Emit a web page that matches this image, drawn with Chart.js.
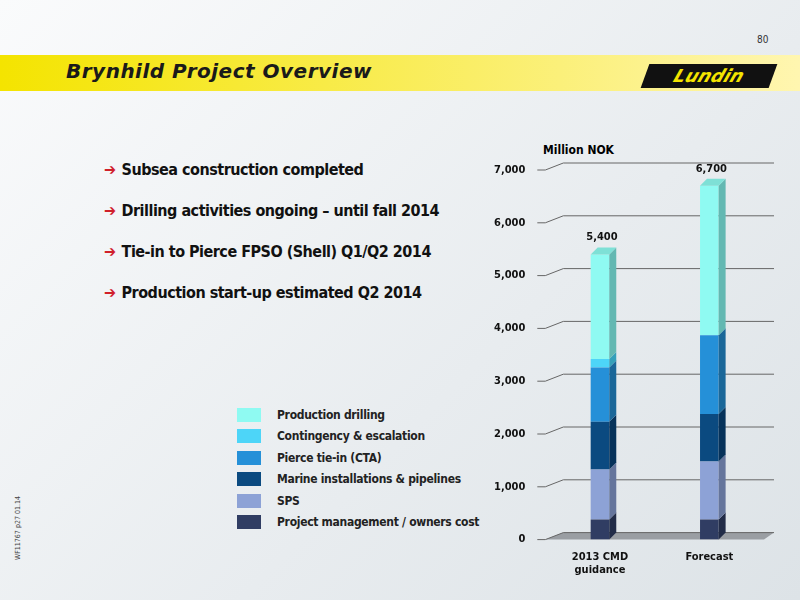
<!DOCTYPE html>
<html>
<head>
<meta charset="utf-8">
<script src="https://cdn.jsdelivr.net/npm/chart.js@4"></script>
<style>
  body { margin: 0; width: 800px; height: 600px; position: relative; overflow: hidden;
         font-family: "DejaVu Sans Condensed", sans-serif;
         background: linear-gradient(135deg, #fafbfc 0%, #e8ecef 60%, #dde3e7 100%); }
  .band { position: absolute; left: 0; top: 55px; width: 800px; height: 36px; background: linear-gradient(90deg,#f4e400 0%, #fbf07a 70%, #fff6b0 100%); }
  .title { position: absolute; left: 66px; top: 59px; font: italic bold 20px "DejaVu Sans", sans-serif; color: #1a1a1a; letter-spacing: 0.5px; }
  .page { position: absolute; left: 757px; top: 34px; font-size: 10px; color: #333; }
  .logo { position: absolute; left: 645px; top: 64px; width: 128px; height: 24px; background: #111; transform: skewX(-20deg); color: #f4e400; font: italic bold 18px "DejaVu Sans", sans-serif; text-align: center; line-height: 24px; }
  .bullets { position: absolute; left: 104px; top: 160px; }
  .bullets div { font: bold 16px "DejaVu Sans Condensed", sans-serif; color: #111; margin-bottom: 22px; letter-spacing: -0.5px; }
  .bullets span { color: #d0202a; margin-right: 6px; }
  .unit { position: absolute; left: 543px; top: 143px; font: bold 12px "DejaVu Sans Condensed", sans-serif; }
  #legend { position: absolute; left: 237px; top: 404px; }
  .li { height: 21.5px; display: flex; align-items: center; font: bold 12px "DejaVu Sans Condensed", sans-serif; color: #222; letter-spacing: -0.3px; }
  .sw { width: 24px; height: 14px; margin-right: 16px; }
  .side { position: absolute; left: 14px; top: 560px; transform: rotate(-90deg); transform-origin: left top; font-size: 7px; color: #444; }
  #wrap { position: absolute; left: 482px; top: 150px; width: 310px; height: 430px; }
</style>
</head>
<body>
<div class="band"></div>
<div class="title">Brynhild Project Overview</div>
<div class="page">80</div>
<div class="logo">Lundin</div>
<div class="bullets">
  <div><span>➔</span>Subsea construction completed</div>
  <div><span>➔</span>Drilling activities ongoing – until fall 2014</div>
  <div><span>➔</span>Tie-in to Pierce FPSO (Shell) Q1/Q2 2014</div>
  <div><span>➔</span>Production start-up estimated Q2 2014</div>
</div>
<div class="unit">Million NOK</div>
<div id="legend"></div>
<div class="side">WF11767 p27 01.14</div>
<div id="wrap"><canvas id="c"></canvas></div>
<script>
const categories = [['2013 CMD', 'guidance'], 'Forecast'];
const totals = ['5,400', '6,700'];
const seriesNames = ['Project management / owners cost', 'SPS', 'Marine installations & pipelines', 'Pierce tie-in (CTA)', 'Contingency & escalation', 'Production drilling'];
const projectMgmt = [380, 380];
const sps = [950, 1100];
const marine = [900, 900];
const pierce = [1030, 1490];
const contingency = [160, 0];
const drilling = [1980, 2830];
const colors = ['#303d63', '#8da2d6', '#0b4a80', '#2590d8', '#4dd5f8', '#8ffaf2'];
const sideColors = ['#222c48', '#65759c', '#06325a', '#1a6799', '#35a0ba', '#63b8b2'];

const values = [projectMgmt, sps, marine, pierce, contingency, drilling];

// legend (top to bottom reversed order)
const legend = document.getElementById('legend');
for (let i = seriesNames.length - 1; i >= 0; i--) {
  legend.innerHTML += '<div class="li"><div class="sw" style="background:' + colors[i] + '"></div>' + seriesNames[i] + '</div>';
}

const depth = 7;
const threeD = {
  id: 'threeD',
  beforeDatasetsDraw(chart) {
    const ctx = chart.ctx, a = chart.chartArea, y0 = chart.scales.y.getPixelForValue(0);
    ctx.save();
    ctx.fillStyle = '#9a9ea3';
    ctx.beginPath();
    ctx.moveTo(a.left, y0); ctx.lineTo(a.left + 18, y0 - depth);
    ctx.lineTo(a.right + 10, y0 - depth); ctx.lineTo(a.right, y0); ctx.closePath(); ctx.fill();
    ctx.strokeStyle = '#666'; ctx.lineWidth = 1;
    chart.scales.y.ticks.forEach(t => {
      const y = chart.scales.y.getPixelForValue(t.value);
      ctx.beginPath(); ctx.moveTo(a.left - 8, y); ctx.lineTo(a.left, y); ctx.lineTo(a.left + 18, y - depth); ctx.lineTo(a.right + 10, y - depth); ctx.stroke();
    });
    ctx.restore();
  },
  afterDatasetsDraw(chart) {
    const ctx = chart.ctx;
    ctx.save();
    chart.data.datasets.forEach((ds, di) => {
      chart.getDatasetMeta(di).data.forEach((bar, i) => {
        if (!ds.data[i]) return;
        const r = bar.x + bar.width / 2, top = bar.y, bot = bar.base;
        ctx.fillStyle = sideColors[di];
        ctx.beginPath();
        ctx.moveTo(r, bot); ctx.lineTo(r + depth, bot - depth);
        ctx.lineTo(r + depth, top - depth); ctx.lineTo(r, top); ctx.closePath(); ctx.fill();
        if (di === 5) {
          const l = bar.x - bar.width / 2;
          ctx.fillStyle = '#7ee0d6';
          ctx.beginPath();
          ctx.moveTo(l, top); ctx.lineTo(l + depth, top - depth); ctx.lineTo(r + depth, top - depth); ctx.lineTo(r, top); ctx.closePath(); ctx.fill();
          ctx.fillStyle = '#111';
          ctx.font = 'bold 11px "DejaVu Sans Condensed", sans-serif';
          ctx.textAlign = 'center';
          ctx.fillText(totals[i], bar.x + 2, top - 14);
        }
      });
    });
    ctx.restore();
  }
};

new Chart(document.getElementById('c'), {
  type: 'bar',
  data: {
    labels: categories,
    datasets: seriesNames.map((n, i) => ({
      label: n, data: values[i], backgroundColor: colors[i],
      barPercentage: 0.17, categoryPercentage: 1
    }))
  },
  options: {
    responsive: true, maintainAspectRatio: false, animation: false,
    layout: { padding: { top: 20, right: 28, bottom: 0 } },
    plugins: { legend: { display: false }, tooltip: { enabled: false } },
    scales: {
      x: { stacked: true, grid: { display: false }, border: { display: false },
           ticks: { color: '#111', font: { family: 'DejaVu Sans Condensed', size: 11, weight: 'bold' } } },
      y: { stacked: true, min: 0, max: 7000,
           ticks: { stepSize: 1000, padding: 12, color: '#111', font: { family: 'DejaVu Sans Condensed', size: 11, weight: 'bold' },
                    callback: v => v.toLocaleString('en-US') },
           grid: { display: false }, border: { display: false } }
    }
  },
  plugins: [threeD]
});
</script>
</body>
</html>
